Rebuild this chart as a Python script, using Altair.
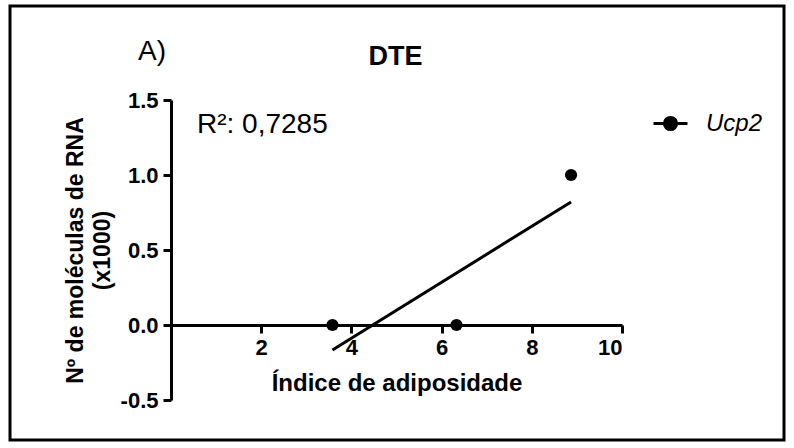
import altair as alt
import pandas as pd

# Ucp2 expression vs adiposity index (DTE group)
adiposity_index = [3.58, 6.33, 8.87]
rna_molecules = [0.0, 0.0, 1.0]
gene = ["Ucp2", "Ucp2", "Ucp2"]
x_ticks = [2, 4, 6, 8, 10]
y_ticks = [-0.5, 0.0, 0.5, 1.0, 1.5]
r2_label = "R²: 0,7285"
panel_label = "A)"
title_text = "DTE"

df = pd.DataFrame({"indice": adiposity_index, "rna": rna_molecules, "gene": gene})
one_row = pd.DataFrame({"k": [0]})

FONT = "Liberation Sans"
W, H = 451, 300

x_enc = alt.X(
    "indice:Q",
    scale=alt.Scale(domain=[0, 10], nice=False, zero=False),
    axis=alt.Axis(
        values=x_ticks,
        title="Índice de adiposidade",
        offset=-75,
        grid=False,
        domainColor="black", domainWidth=3,
        tickColor="black", tickWidth=3, tickSize=8,
        labelFont=FONT, labelFontSize=22, labelFontWeight="bold",
        labelColor="black", labelPadding=4,
        titleFont=FONT, titleFontSize=24, titleFontWeight="bold",
        titleColor="black", titleBaseline="alphabetic", titleY=65,
    ),
)
y_enc = alt.Y(
    "rna:Q",
    scale=alt.Scale(domain=[-0.5, 1.5], nice=False, zero=False),
    axis=alt.Axis(
        values=y_ticks,
        # plain hyphen for negative labels
        labelExpr="replace(format(datum.value, '.1f'), '\u2212', '-')",
        title=["Nº de moléculas de RNA", "(x1000)"],
        grid=False,
        domainColor="black", domainWidth=3,
        tickColor="black", tickWidth=3, tickSize=8,
        labelFont=FONT, labelFontSize=22, labelFontWeight="bold",
        labelColor="black", labelPadding=5,
        titleFont=FONT, titleFontSize=23, titleFontWeight="bold",
        titleColor="black", titleLineHeight=27,
        titleBaseline="alphabetic", titleX=-89, titleY=150,
    ),
)

legend_symbol = "M-1,0L1,0M-0.36,0A0.36,0.36,0,1,1,0.36,0A0.36,0.36,0,1,1,-0.36,0Z"

border = alt.Chart(one_row).mark_rect(
    fillOpacity=0, stroke="black", strokeWidth=3
).encode(
    x=alt.value(-161), x2=alt.value(613), y=alt.value(-94), y2=alt.value(340)
)

fit = alt.Chart(df).transform_regression("indice", "rna").mark_line(
    color="black", strokeWidth=3
).encode(x=x_enc, y=y_enc)

points = alt.Chart(df).mark_point(filled=True, size=150, opacity=1).encode(
    x=x_enc,
    y=y_enc,
    color=alt.Color(
        "gene:N",
        scale=alt.Scale(range=["black"]),
        legend=alt.Legend(
            title=None,
            orient="none",
            legendX=481,
            legendY=5,
            padding=0,
            symbolType=legend_symbol,
            symbolSize=1156,
            symbolStrokeWidth=3,
            symbolStrokeColor="black",
            symbolFillColor="black",
            labelFont=FONT,
            labelFontSize=24,
            labelFontStyle="italic",
            labelColor="black",
            labelOffset=17,
        ),
    ),
)

panel = alt.Chart(one_row).mark_text(
    font=FONT, fontSize=28, align="center", baseline="alphabetic", color="black"
).encode(x=alt.value(-19), y=alt.value(-40), text=alt.value(panel_label))

heading = alt.Chart(one_row).mark_text(
    font=FONT, fontSize=27, fontWeight="bold", align="center",
    baseline="alphabetic", color="black"
).encode(x=alt.value(W / 2 - 1), y=alt.value(-35), text=alt.value(title_text))

r2 = alt.Chart(one_row).mark_text(
    font=FONT, fontSize=28, align="left", baseline="alphabetic", color="black"
).encode(x=alt.value(26), y=alt.value(33), text=alt.value(r2_label))

chart = alt.layer(border, fit, points, panel, heading, r2).properties(
    width=W,
    height=H,
    padding={"left": 171, "top": 100, "right": 172, "bottom": 48},
    autosize=alt.AutoSizeParams(type="none"),
    background="white",
).configure_view(stroke="transparent")

chart.save("out.html", embed_options={"renderer": "svg", "actions": False})
